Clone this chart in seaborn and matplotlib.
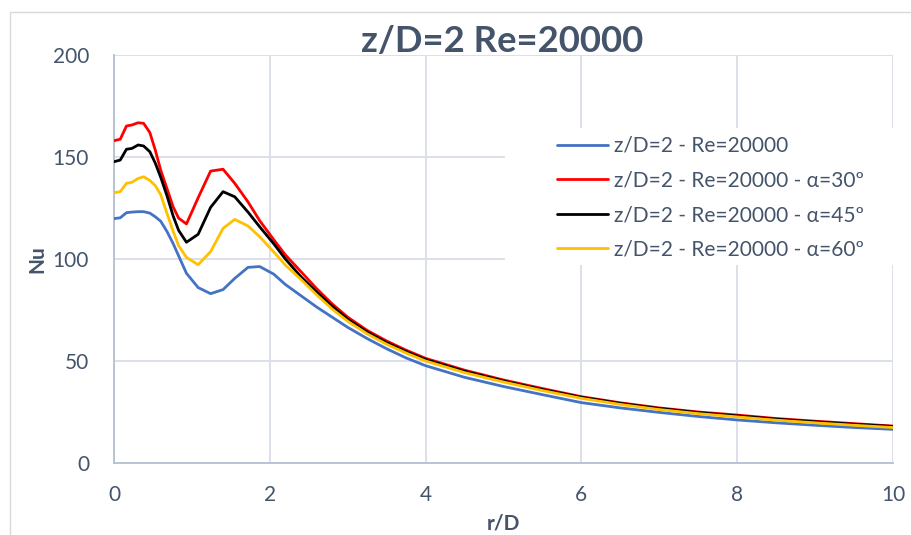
import matplotlib
matplotlib.use("Agg")
import matplotlib.pyplot as plt
from matplotlib.patches import Rectangle
import pandas as pd
import seaborn as sns

# Radial position r/D (shared sample points)
r_over_d = [0.0, 0.08, 0.16, 0.23, 0.31, 0.38, 0.46, 0.53, 0.6, 0.68, 0.76,
            0.83, 0.93, 1.08, 1.24, 1.4, 1.55, 1.72, 1.87, 2.05, 2.2, 2.4,
            2.6, 2.8, 3.0, 3.25, 3.5, 3.75, 4.0, 4.5, 5.0, 5.5, 6.0, 6.5,
            7.0, 7.5, 8.0, 8.5, 9.0, 9.5, 10.0]

# Local Nusselt number for each jet configuration
nu_base = [119.8, 120.2, 122.7, 123.0, 123.2, 123.2, 122.5, 120.7, 118.5, 113.5, 107.5,
           101.5, 93.0, 86.0, 83.0, 85.0, 90.5, 95.9, 96.3, 92.6, 87.5, 82.0,
           76.5, 71.5, 66.5, 61.0, 56.0, 51.5, 47.7, 42.0, 37.5, 33.5, 29.6, 27.0,
           24.8, 22.8, 21.1, 19.7, 18.5, 17.4, 16.5]
nu_a30 = [158.0, 158.7, 165.2, 165.7, 166.8, 166.5, 162.0, 153.4, 143.5, 134.5, 125.5,
          120.0, 117.2, 130.0, 143.1, 144.0, 137.1, 128.0, 118.8, 109.5, 102.0, 93.8,
          85.5, 78.0, 71.5, 65.0, 59.8, 55.3, 51.3, 45.5, 40.7, 36.5, 32.5, 29.5,
          27.0, 25.0, 23.5, 21.8, 20.5, 19.3, 18.1]
nu_a45 = [147.7, 148.5, 153.8, 154.2, 155.9, 155.4, 152.6, 147.0, 140.0, 131.0, 121.0,
          114.0, 108.2, 112.1, 125.3, 133.0, 130.5, 123.0, 115.8, 107.5, 100.0, 91.3,
          83.8, 76.8, 70.5, 64.2, 59.0, 54.6, 50.7, 45.0, 40.2, 36.0, 32.2, 29.2,
          26.7, 24.7, 23.1, 21.5, 20.2, 19.0, 17.9]
nu_a60 = [132.5, 133.0, 137.1, 137.6, 139.5, 140.3, 138.5, 136.0, 131.5, 122.4, 113.5,
          106.5, 100.8, 97.2, 103.6, 115.0, 119.4, 116.2, 110.9, 103.5, 97.0, 90.0,
          82.5, 75.5, 69.5, 63.3, 58.2, 53.9, 50.0, 44.3, 39.7, 35.5, 31.7, 28.7,
          26.2, 24.2, 22.6, 21.0, 19.7, 18.5, 17.4]

series_names = ["z/D=2 - Re=20000",
                "z/D=2 - Re=20000 - α=30º",
                "z/D=2 - Re=20000 - α=45º",
                "z/D=2 - Re=20000 - α=60º"]
series_colors = ["#4472C4", "#FF0000", "#000000", "#FFC000"]

x_ticks = [0, 2, 4, 6, 8, 10]
y_ticks = [0, 50, 100, 150, 200]

frames = []
for name, vals in zip(series_names, [nu_base, nu_a30, nu_a45, nu_a60]):
    frames.append(pd.DataFrame({"r/D": r_over_d, "Nu": vals, "serie": name}))
df = pd.concat(frames, ignore_index=True)

sns.set_theme(style="white")
plt.rcParams["font.family"] = ["Lato", "DejaVu Sans"]

text_col = "#44546A"
grid_col = "#D9DEE7"
axis_col = "#B4BFD3"

W, H = 911, 535
fig = plt.figure(figsize=(W / 100, H / 100), dpi=100)
ax = fig.add_axes([114 / W, 1 - 463 / H, (893 - 114) / W, (463 - 55) / H])

# Outer chart-area border
fig.patches.append(Rectangle((10 / W, -0.1), 1.2, 1 - 12 / H + 0.1,
                             transform=fig.transFigure, fill=False,
                             edgecolor="#D9D9D9", linewidth=1.0, zorder=0))

sns.lineplot(data=df, x="r/D", y="Nu", hue="serie", palette=series_colors,
             hue_order=series_names, linewidth=2.0, ax=ax, sort=False,
             estimator=None)

ax.set_xlim(0, 10)
ax.set_ylim(0, 200)
ax.set_xticks(x_ticks)
ax.set_yticks(y_ticks)
ax.set_xticklabels([str(t) for t in x_ticks])
ax.set_yticklabels([str(t) for t in y_ticks])
ax.grid(True, color=grid_col, linewidth=1.3)
ax.set_axisbelow(True)
for side in ["top", "right"]:
    ax.spines[side].set_visible(False)
for side in ["left", "bottom"]:
    ax.spines[side].set_color(axis_col)
    ax.spines[side].set_linewidth(1.3)
    ax.spines[side].set_zorder(1)

ax.tick_params(axis="both", length=0, labelsize=15, labelcolor=text_col)
ax.tick_params(axis="y", pad=18)
ax.tick_params(axis="x", pad=16)

ax.set_xlabel("r/D", fontsize=15, fontweight="bold", color=text_col, labelpad=6)
ax.set_ylabel("Nu", fontsize=15, fontweight="bold", color=text_col, labelpad=4)

fig.text(502 / W, 1 - 42 / H, "z/D=2 Re=20000", ha="center", va="center",
         fontsize=26.3, fontweight="bold", color=text_col)

# White legend area that hides the gridlines behind it
ax.add_patch(Rectangle((505 / W, 1 - 265 / H), (905 - 505) / W, (265 - 128) / H,
                       transform=fig.transFigure, facecolor="white",
                       edgecolor="none", zorder=1.5, clip_on=False))

handles, labels = ax.get_legend_handles_labels()
leg = ax.legend(handles, labels, loc="upper left",
                bbox_to_anchor=(557 / W, 1 - 136 / H),
                bbox_transform=fig.transFigure,
                frameon=False, fontsize=15, handlelength=2.45, handletextpad=0.3,
                labelspacing=0.7, borderpad=0.0, borderaxespad=0.0,
                labelcolor=text_col)

fig.savefig("out.png", dpi=100)
